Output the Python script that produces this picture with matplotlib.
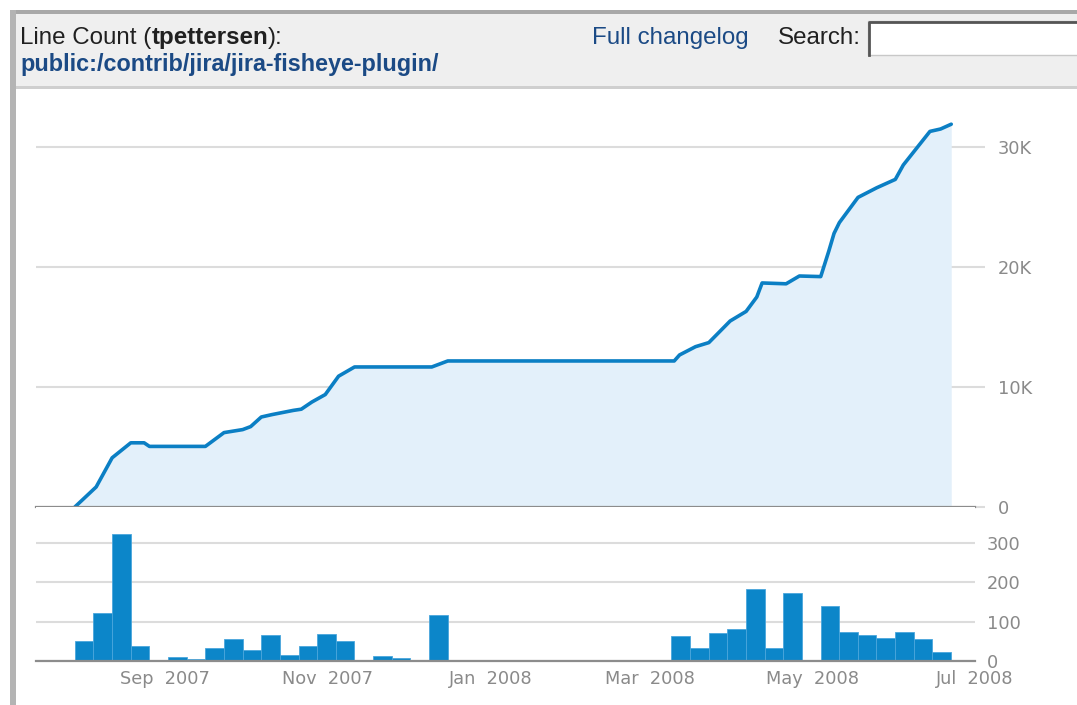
import datetime as dt
import matplotlib
matplotlib.use("Agg")
import matplotlib.pyplot as plt
import matplotlib.dates as mdates
from matplotlib.patches import Rectangle
import numpy as np

# line count over time (top chart)
line_dates = ["2007-07-29", "2007-08-06", "2007-08-12", "2007-08-19", "2007-08-24",
              "2007-08-26", "2007-09-16", "2007-09-23", "2007-09-30", "2007-10-03",
              "2007-10-07", "2007-10-11", "2007-10-19", "2007-10-22", "2007-10-26",
              "2007-10-31", "2007-11-05", "2007-11-11", "2007-12-10", "2007-12-16",
              "2008-03-10", "2008-03-12", "2008-03-18", "2008-03-23", "2008-03-27",
              "2008-03-31", "2008-04-06", "2008-04-10", "2008-04-12", "2008-04-21",
              "2008-04-26", "2008-05-04", "2008-05-07", "2008-05-09", "2008-05-11",
              "2008-05-18", "2008-05-25", "2008-06-01", "2008-06-04", "2008-06-14",
              "2008-06-18", "2008-06-22"]
line_counts = [0, 1670, 4100, 5350, 5350,
               5050, 5050, 6200, 6450, 6700,
               7500, 7700, 8050, 8150, 8750,
               9370, 10900, 11670, 11670, 12170,
               12170, 12670, 13360, 13700, 14600,
               15500, 16300, 17500, 18670, 18600,
               19250, 19200, 21300, 22800, 23700,
               25800, 26600, 27300, 28500, 31300,
               31500, 31900]

# lines changed per week (bottom chart), weeks start on this day
first_week = "2007-07-29"
week_counts = [52, 121, 323, 37, 0, 9, 5, 33, 57, 27,
               66, 15, 37, 69, 51, 0, 13, 7, 0, 118,
               0, 0, 0, 0, 0, 0, 0, 0, 0, 0,
               0, 0, 63, 33, 72, 82, 184, 33, 174, 0,
               140, 75, 65, 58, 75, 56, 22]

month_ticks = ["2007-09-01", "2007-11-01", "2008-01-01", "2008-03-01", "2008-05-01", "2008-07-01"]
month_labels = ["Sep  2007", "Nov  2007", "Jan  2008", "Mar  2008", "May  2008", "Jul  2008"]
top_ticks = [0, 10000, 20000, 30000]
top_labels = ["0", "10K", "20K", "30K"]
bottom_ticks = [0, 100, 200, 300]
bottom_labels = ["0", "100", "200", "300"]

W, H = 1077, 705
blue = "#0b7fc4"
grid_c = "#dcdcdc"
label_c = "#8a8a8a"
tick_font = 12.8


def to_num(s):
    return mdates.date2num(dt.datetime.strptime(s, "%Y-%m-%d"))


def px_axes(left, top, right, bottom):
    return [left / W, 1 - bottom / H, (right - left) / W, (bottom - top) / H]


fig = plt.figure(figsize=(W / 100, H / 100), dpi=100)

# page background / header, drawn in pixel coordinates
bg = fig.add_axes([0, 0, 1, 1], zorder=-5)
bg.set_xlim(0, W)
bg.set_ylim(H, 0)
bg.axis("off")
bg.add_patch(Rectangle((16, 13), W, 73, facecolor="#efefef", edgecolor="none"))
bg.add_patch(Rectangle((10, 10), W, 3.5, facecolor="#a8a8a8", edgecolor="none"))
bg.add_patch(Rectangle((10, 10), 6, H, facecolor="#b4b4b4", edgecolor="none"))
bg.add_patch(Rectangle((16, 86), W, 2.5, facecolor="#cfcfcf", edgecolor="none"))
# search box
bg.add_patch(Rectangle((868, 21), 220, 34, facecolor="white", edgecolor="#c8c8c8", lw=1))
bg.plot([869, 869, W], [55, 22, 22], color="#555555", lw=2)

renderer = fig.canvas.get_renderer()
hfont = "Liberation Sans"
hsize = 17.4
x = 20
for txt, weight in [("Line Count (", "normal"), ("tpettersen", "bold"), ("):", "normal")]:
    t = bg.text(x, 44, txt, fontsize=hsize, family=hfont, weight=weight,
                color="#202020", va="baseline", ha="left")
    x = t.get_window_extent(renderer).x1
bg.text(20, 71, "public:/contrib/jira/jira-fisheye-plugin/", fontsize=16.8, family=hfont,
        weight="bold", color="#1b4a85", va="baseline", ha="left")
bg.text(592, 44, "Full changelog", fontsize=hsize, family=hfont, color="#1b4a85",
        va="baseline", ha="left")
bg.text(778, 44, "Search:", fontsize=hsize, family=hfont, color="#202020",
        va="baseline", ha="left")

xmin = mdates.date2num(dt.datetime(2007, 7, 14, 10))
xmax = mdates.date2num(dt.datetime(2008, 6, 30, 22))

# top chart: line count
ax = fig.add_axes(px_axes(36, 99, 975, 507))
xs = [to_num(d) for d in line_dates]
ax.fill_between(xs, line_counts, color="#e3f0fa", lw=0)
ax.plot(xs, line_counts, color=blue, lw=2.6, solid_joinstyle="round", solid_capstyle="round")
ax.set_xlim(xmin, xmax)
ax.set_ylim(0, 34000)
ax.set_yticks(top_ticks)
ax.set_yticklabels(top_labels)
ax.yaxis.tick_right()
ax.tick_params(axis="y", length=7.2, width=1.5, color=grid_c, pad=9.4,
               labelsize=tick_font, labelcolor=label_c)
ax.tick_params(axis="x", length=0, labelbottom=False)
ax.yaxis.grid(True, color=grid_c, lw=1.5)
ax.set_axisbelow(True)
for s in ["left", "right", "top"]:
    ax.spines[s].set_visible(False)
ax.spines["bottom"].set_color("#8c8c8c")
ax.spines["bottom"].set_linewidth(1.6)

# bottom chart: weekly changes
ax2 = fig.add_axes(px_axes(36, 507, 975, 661))
wk = to_num(first_week) + 7 * np.arange(len(week_counts))
ax2.bar(wk, week_counts, width=7, align="edge", color="#0c86c9",
        edgecolor="#4aa6dc", linewidth=0.6)
ax2.set_xlim(xmin, xmax)
ax2.set_ylim(0, 392)
ax2.set_yticks(bottom_ticks)
ax2.set_yticklabels(bottom_labels)
ax2.yaxis.tick_right()
ax2.tick_params(axis="y", length=0, pad=8.6, labelsize=tick_font, labelcolor=label_c)
ax2.set_xticks([to_num(d) for d in month_ticks])
ax2.set_xticklabels(month_labels)
ax2.tick_params(axis="x", length=0, pad=6.5, labelsize=tick_font, labelcolor=label_c)
ax2.yaxis.grid(True, color=grid_c, lw=1.5)
ax2.set_axisbelow(True)
for s in ["left", "right", "top"]:
    ax2.spines[s].set_visible(False)
ax2.spines["bottom"].set_color("#8c8c8c")
ax2.spines["bottom"].set_linewidth(1.6)

fig.savefig("out.png", dpi=100)
